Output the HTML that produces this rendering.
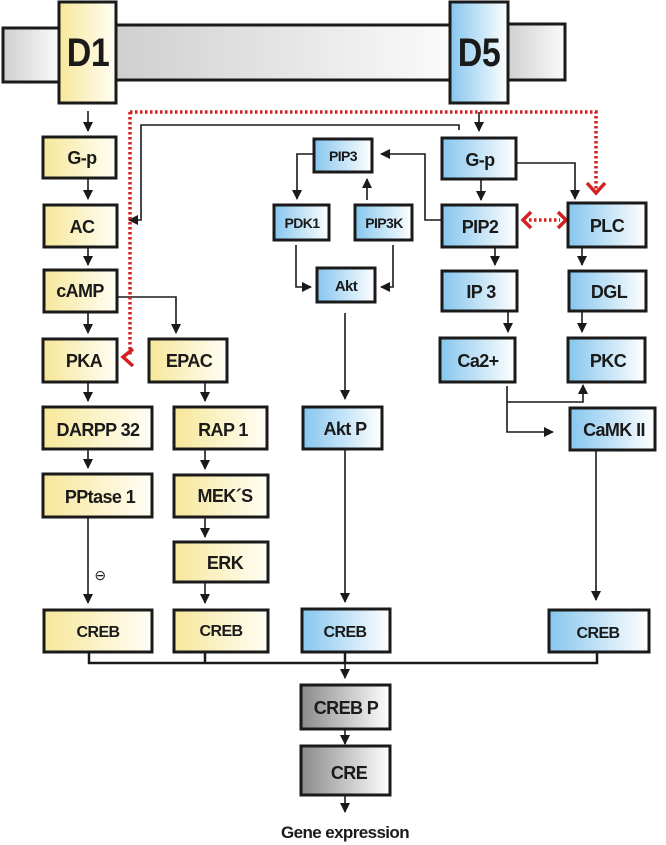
<!DOCTYPE html>
<html><head><meta charset="utf-8"><style>
html,body{margin:0;padding:0;background:#fff}
svg{display:block}
text{font-family:"Liberation Sans",Arial,sans-serif;font-weight:bold;fill:#1a1a1a;letter-spacing:-0.6px}
</style></head><body>
<svg width="666" height="845" viewBox="0 0 666 845" xmlns="http://www.w3.org/2000/svg">
<defs>
<linearGradient id="y" x1="0" x2="1" y1="0" y2="0"><stop offset="0" stop-color="#f7e79a"/><stop offset="1" stop-color="#fffef6"/></linearGradient>
<linearGradient id="b" x1="0" x2="1" y1="0" y2="0"><stop offset="0" stop-color="#86c6ee"/><stop offset="1" stop-color="#ffffff"/></linearGradient>
<linearGradient id="g" x1="0" x2="1" y1="0" y2="0"><stop offset="0" stop-color="#8a8a8a"/><stop offset="1" stop-color="#ffffff"/></linearGradient>
<linearGradient id="m" x1="0" x2="1" y1="0" y2="0"><stop offset="0" stop-color="#cfcfcf"/><stop offset="1" stop-color="#fbfbfb"/></linearGradient>
<marker id="a" markerWidth="10" markerHeight="10" refX="9" refY="5" orient="auto" markerUnits="userSpaceOnUse"><path d="M0,0 L10,5 L0,10 Z" fill="#1a1a1a"/></marker>
</defs>
<g stroke="#1a1a1a" stroke-width="3">
<rect x="3" y="28" width="57" height="54" fill="url(#m)"/>
<rect x="114" y="25" width="338" height="55" fill="url(#m)"/>
<rect x="507" y="24" width="58" height="56" fill="url(#m)"/>
<rect x="59" y="2" width="57" height="101" fill="url(#y)"/>
<rect x="450" y="2" width="58" height="101" fill="url(#b)"/>
</g>
<text x="88" y="66" font-size="40" text-anchor="middle" transform="translate(88 0) scale(0.85 1) translate(-88 0)">D1</text>
<text x="479" y="66" font-size="40" text-anchor="middle" transform="translate(479 0) scale(0.85 1) translate(-479 0)">D5</text>

<g stroke="#1a1a1a" stroke-width="1.6" fill="none" marker-end="url(#a)">
<path d="M88 111 V131"/><path d="M479 112 V131"/>
<path d="M88 179 V199"/><path d="M88 248 V265"/>
<path d="M88 313 V333"/><path d="M117 297 H176 V333"/>
<path d="M88 383 V401"/><path d="M205 383 V401"/>
<path d="M88 450 V468"/><path d="M205 450 V469"/><path d="M205 518 V537"/>
<path d="M88 518 V603"/><path d="M205 583 V603"/>
<path d="M459 130 V125 H141 V220 H129"/>
<path d="M442 220 H425 V154 H381"/>
<path d="M314 154 H297 V199"/>
<path d="M367 200 V179"/>
<path d="M296 245 V287 H311"/>
<path d="M393 245 V287 H381"/>
<path d="M481 180 V200"/>
<path d="M516 163 H575 V199"/>
<path d="M495 248 V265"/><path d="M582 248 V265"/>
<path d="M508 312 V332"/><path d="M582 312 V332"/>
<path d="M507 386 V432 H553"/>
<path d="M507 402 H583 V385"/>
<path d="M345 313 V399"/>
<path d="M345 450 V602"/>
<path d="M596 450 V600"/>
<path d="M345 663 V678"/><path d="M345 730 V744"/><path d="M345 796 V812"/>
</g>
<path d="M89 653 V663 H597 V653 M205 653 V663 M345 653 V663" stroke="#1a1a1a" stroke-width="2.5" fill="none"/>

<g stroke="#d42020" stroke-width="3.5" fill="none">
<path d="M130 112 H596 V190" stroke-dasharray="2.5 2.5"/>
<path d="M130 112 V355" stroke-dasharray="2.5 2.5"/>
<path d="M587 183 L596 193 L605 183"/>
<path d="M133 349 L123 357 L133 366"/>
<path d="M529 220 H560" stroke-dasharray="2.5 2.5"/>
<path d="M531 212 L523 220 L531 228 M558 212 L566 220 L558 228"/>
</g>

<g stroke="#1a1a1a" stroke-width="3">
<rect x="43" y="137" width="73" height="41" fill="url(#y)"/>
<rect x="44" y="205" width="73" height="42" fill="url(#y)"/>
<rect x="44" y="270" width="73" height="42" fill="url(#y)"/>
<rect x="43" y="339" width="74" height="43" fill="url(#y)"/>
<rect x="149" y="339" width="78" height="43" fill="url(#y)"/>
<rect x="43" y="407" width="109" height="42" fill="url(#y)"/>
<rect x="174" y="407" width="93" height="42" fill="url(#y)"/>
<rect x="43" y="474" width="109" height="43" fill="url(#y)"/>
<rect x="174" y="475" width="94" height="42" fill="url(#y)"/>
<rect x="174" y="542" width="94" height="40" fill="url(#y)"/>
<rect x="44" y="610" width="108" height="42" fill="url(#y)"/>
<rect x="174" y="610" width="94" height="42" fill="url(#y)"/>
<rect x="314" y="139" width="58" height="33" fill="url(#b)"/>
<rect x="274" y="205" width="55" height="35" fill="url(#b)"/>
<rect x="355" y="205" width="57" height="35" fill="url(#b)"/>
<rect x="317" y="268" width="58" height="34" fill="url(#b)"/>
<rect x="442" y="138" width="74" height="41" fill="url(#b)"/>
<rect x="442" y="205" width="75" height="42" fill="url(#b)"/>
<rect x="568" y="203" width="78" height="44" fill="url(#b)"/>
<rect x="442" y="271" width="75" height="40" fill="url(#b)"/>
<rect x="569" y="271" width="77" height="40" fill="url(#b)"/>
<rect x="440" y="338" width="75" height="44" fill="url(#b)"/>
<rect x="568" y="338" width="77" height="44" fill="url(#b)"/>
<rect x="303" y="407" width="79" height="42" fill="url(#b)"/>
<rect x="570" y="408" width="85" height="42" fill="url(#b)"/>
<rect x="302" y="609" width="88" height="43" fill="url(#b)"/>
<rect x="549" y="610" width="100" height="42" fill="url(#b)"/>
<rect x="301" y="685" width="89" height="44" fill="url(#g)"/>
<rect x="301" y="746" width="89" height="49" fill="url(#g)"/>
</g>
<g font-size="18" text-anchor="middle">
<text x="82" y="164">G-p</text>
<text x="82" y="233">AC</text>
<text x="80" y="297">cAMP</text>
<text x="84" y="367">PKA</text>
<text x="189" y="367">EPAC</text>
<text x="98" y="436">DARPP 32</text>
<text x="223" y="436">RAP 1</text>
<text x="100" y="503">PPtase 1</text>
<text x="225" y="502">MEK´S</text>
<text x="225" y="569">ERK</text>
<text x="98" y="637" font-size="16">CREB</text>
<text x="221" y="636" font-size="16">CREB</text>
<text x="345" y="637" font-size="16">CREB</text>
<text x="598" y="638" font-size="16">CREB</text>
<text x="343" y="161" font-size="14">PIP3</text>
<text x="302" y="228" font-size="14">PDK1</text>
<text x="384" y="228" font-size="14">PIP3K</text>
<text x="346" y="291" font-size="15">Akt</text>
<text x="480" y="166">G-p</text>
<text x="480" y="233">PIP2</text>
<text x="607" y="232">PLC</text>
<text x="481" y="298">IP 3</text>
<text x="609" y="298">DGL</text>
<text x="478" y="367">Ca2+</text>
<text x="608" y="367">PKC</text>
<text x="345" y="435">Akt P</text>
<text x="614" y="436">CaMK II</text>
<text x="346" y="714">CREB P</text>
<text x="349" y="779">CRE</text>
<text x="345" y="838" font-size="17">Gene expression</text>
</g>
<text x="100" y="580" font-size="14" text-anchor="middle" style="font-weight:normal">⊖</text>
</svg>
</body></html>
